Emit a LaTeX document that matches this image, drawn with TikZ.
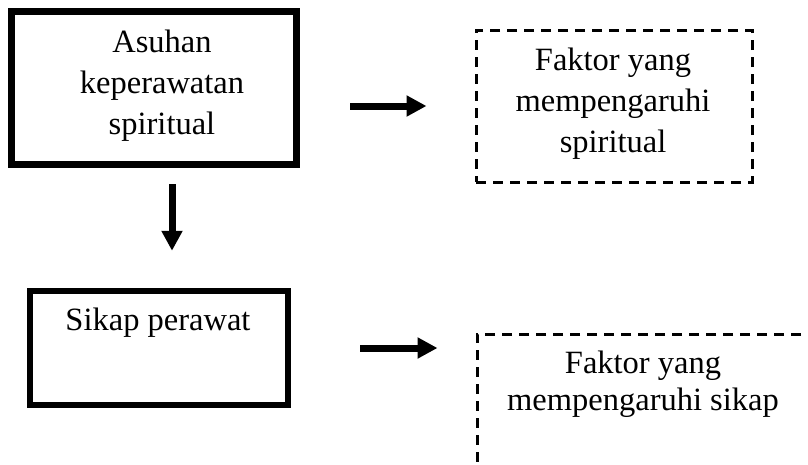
\documentclass[tikz,border=0pt]{standalone}
\usepackage{fontspec}
\setmainfont{Liberation Serif}
\usetikzlibrary{arrows.meta}
\begin{document}
\begin{tikzpicture}[x=1pt,y=-1pt,
  solidbox/.style={draw=black,rectangle,inner sep=0pt,align=center},
  dashbox/.style={draw=black,rectangle,inner sep=0pt,align=center,line width=3pt,dash pattern=on 10pt off 7pt},
  txt/.style={align=center,inner sep=0pt},
  arr/.style={line width=7pt,-{Triangle[length=20pt,width=20pt]}}]
\useasboundingbox (0,0) rectangle (808,464);
\clip (0,0) rectangle (808,464);
\fontsize{32.5}{41}\selectfont
\node[solidbox,line width=7pt,minimum width=285pt,minimum height=153pt] (b1) at (154,88) {};
\node[txt] (t1) at (162,86) {Asuhan\\keperawatan\\spiritual};
\node[solidbox,line width=6.5pt,minimum width=258pt,minimum height=114pt] (b2) at (159,348) {};
\node[txt] (t2) at (158,323) {Sikap perawat};
\node[dashbox,minimum width=276pt,minimum height=152pt] (f1) at (614,106) {};
\node[txt] (t3) at (613,104) {Faktor yang\\mempengaruhi\\spiritual};
\node[dashbox,minimum width=423pt,minimum height=226pt] (f2) at (688.5,447) {};
\node[txt] (t4) at (643,384) {Faktor yang\\[-4pt]mempengaruhi sikap};
\draw[arr,shorten <=50pt,shorten >=48pt] (b1.east |- f1.west) -- (f1.west);
\draw[arr,shorten <=69pt,shorten >=38pt] (b2.east) -- (f2.west |- b2.east);
\draw[arr,shorten <=16pt,shorten >=37pt] ([xshift=18pt]b1.south) -- ([xshift=18pt]b1.south |- b2.north);
\end{tikzpicture}
\end{document}
